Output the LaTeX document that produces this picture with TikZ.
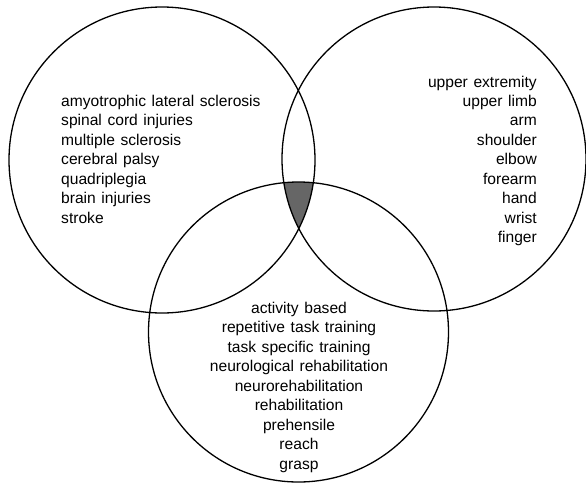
\documentclass[tikz,border=0pt]{standalone}
\usepackage{fontspec}
\setmainfont{Liberation Sans}
\usetikzlibrary{positioning}
\newcommand\listfont{\fontsize{15.6}{19.5}\selectfont\spaceskip=5.6pt plus 1pt\relax}
\begin{document}
\begin{tikzpicture}[x=1pt, y=-1pt,
  listtext/.style={font=\listfont, inner sep=0pt},
  venn/.style={draw=black, line width=1.3pt}]
\useasboundingbox (0,0) rectangle (586,485);

% Circle centres
\coordinate (cond) at (162,160);
\coordinate (body) at (434,159);
\coordinate (train) at (298.5,332);

% Triple overlap (shaded)
\begin{scope}
  \clip (cond) circle[radius=153];
  \clip (body) circle[radius=152];
  \fill[black!60] (train) circle[radius=150];
\end{scope}

% Circles
\draw[venn] (cond) circle[radius=153];
\draw[venn] (body) circle[radius=152];
\draw[venn] (train) circle[radius=150];

% Conditions (left circle)
\foreach \txt [count=\i from 0] in {amyotrophic lateral sclerosis, spinal cord injuries,
  multiple sclerosis, cerebral palsy, quadriplegia, brain injuries, stroke}
  \node[listtext, anchor=base west] (condtxt\i) at (61,{106+19.5*\i}) {\txt};

% Body parts (right circle)
\foreach \txt [count=\i from 0] in {upper extremity, upper limb, arm, shoulder,
  elbow, forearm, hand, wrist, finger}
  \node[listtext, anchor=base east] (bodytxt\i) at (537,{87+19.45*\i}) {\txt};

% Training (bottom circle)
\foreach \txt [count=\i from 0] in {activity based, repetitive task training,
  task specific training, neurological rehabilitation, neurorehabilitation,
  rehabilitation, prehensile, reach, grasp}
  \node[listtext, anchor=base] (traintxt\i) at (299,{313+19.56*\i}) {\txt};

\end{tikzpicture}
\end{document}
